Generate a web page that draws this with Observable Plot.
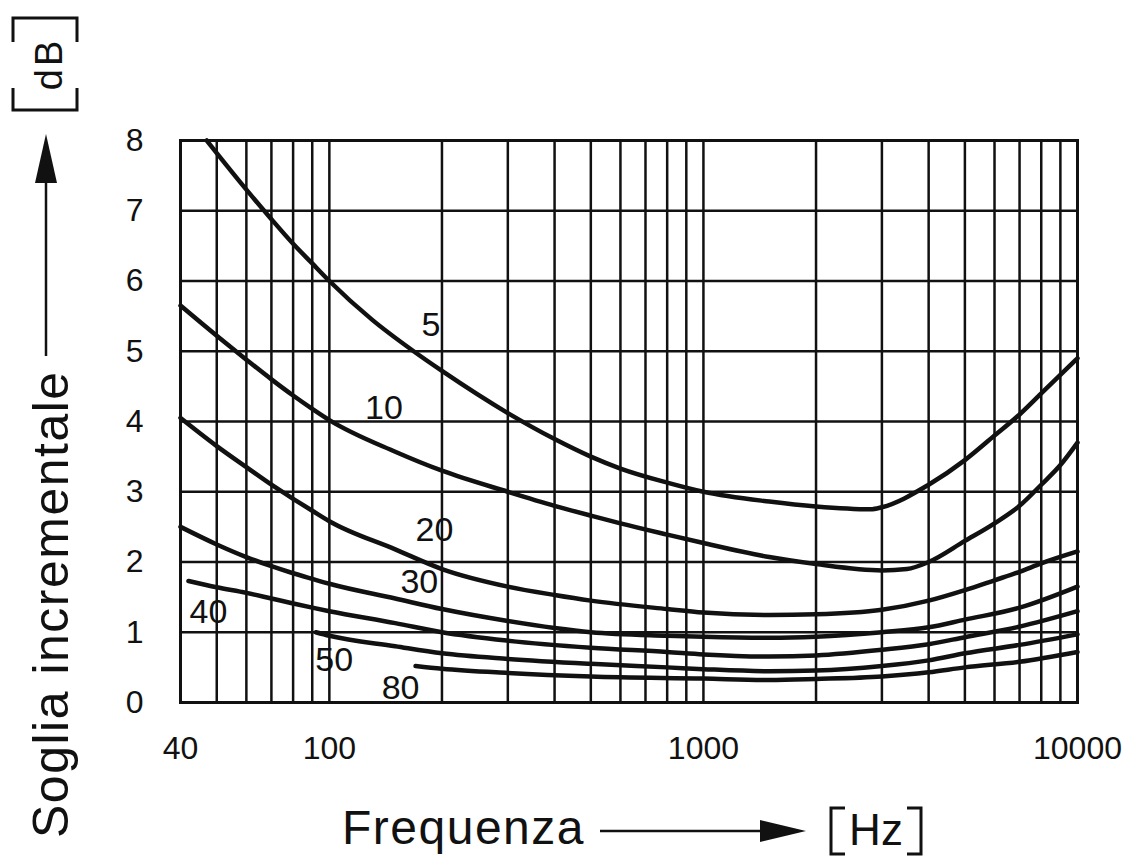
<!DOCTYPE html>
<html><head><meta charset="utf-8">
<script src="https://cdn.jsdelivr.net/npm/d3@7"></script>
<script src="https://cdn.jsdelivr.net/npm/@observablehq/plot@0.6"></script>
<style>
body{margin:0;background:#fff;}
#chart svg{display:block;}
</style>
</head><body><div id="chart"></div>
<script>
// Grid & ticks
const gridFreqs = [50,60,70,80,90,100,200,300,400,500,600,700,800,900,1000,2000,3000,4000,5000,6000,7000,8000,9000];
const gridDb = [1,2,3,4,5,6,7];
const xTicks = [40,100,1000,10000];
const yTicks = [0,1,2,3,4,5,6,7,8];

// Curves (frequency in Hz, incremental threshold in dB), one per sensation level
const freq5  = [47,50,60,70,80,90,100,130,168,200,300,400,500,600,800,1000,1500,2000,2800,3000,4000,5000,6000,7000,8000,10000];
const db5    = [8.0,7.82,7.3,6.88,6.53,6.25,6.0,5.45,5.0,4.72,4.12,3.75,3.5,3.33,3.13,3.0,2.86,2.79,2.75,2.78,3.1,3.45,3.8,4.1,4.4,4.9];
const freq10 = [40,50,60,70,80,90,100,150,200,300,400,500,600,800,1000,1500,2000,3000,3500,4000,5000,6000,7000,8000,9000,10000];
const db10   = [5.65,5.22,4.88,4.6,4.37,4.18,4.02,3.57,3.3,3.0,2.8,2.66,2.55,2.39,2.27,2.07,1.97,1.88,1.9,2.0,2.3,2.55,2.8,3.1,3.38,3.7];
const freq20 = [40,50,60,70,80,90,100,150,200,300,400,500,800,1000,1500,2000,3000,4000,5000,6000,7000,8000,10000];
const db20   = [4.05,3.65,3.35,3.1,2.9,2.73,2.58,2.18,1.9,1.65,1.53,1.45,1.33,1.28,1.245,1.255,1.32,1.45,1.6,1.74,1.86,1.98,2.15];
const freq30 = [40,50,60,70,80,90,100,150,200,300,400,500,800,1000,1500,2000,3000,4000,5000,7000,10000];
const db30   = [2.5,2.25,2.07,1.94,1.84,1.76,1.69,1.48,1.33,1.16,1.06,1.0,0.95,0.935,0.92,0.935,1.0,1.07,1.18,1.35,1.65];
const freq40 = [42,50,60,70,80,90,100,150,200,300,500,800,1000,1500,2000,3000,4000,5000,7000,10000];
const db40   = [1.73,1.64,1.56,1.48,1.41,1.35,1.3,1.13,1.0,0.88,0.78,0.72,0.685,0.655,0.67,0.75,0.83,0.93,1.08,1.3];
const freq50 = [92,100,150,200,300,500,800,1000,1500,2000,3000,4000,5000,7000,10000];
const db50   = [1.0,0.95,0.8,0.7,0.62,0.55,0.5,0.475,0.445,0.455,0.52,0.6,0.7,0.82,0.97];
const freq80 = [170,200,300,500,1000,1500,2000,3000,4000,5000,7000,10000];
const db80   = [0.52,0.48,0.42,0.37,0.34,0.32,0.335,0.37,0.43,0.5,0.58,0.72];

// Curve labels
const labelText = ["5","10","20","30","40","50","80"];
const labelFreq = [187,140,191,174,47.5,103,155];
const labelDb   = [5.37,4.19,2.45,1.71,1.28,0.6,0.2];

const series = [
  ["5", freq5, db5], ["10", freq10, db10], ["20", freq20, db20], ["30", freq30, db30],
  ["40", freq40, db40], ["50", freq50, db50], ["80", freq80, db80]
];
const rows = series.flatMap(([k, fs, ds]) => fs.map((f, i) => ({level: k, f, db: ds[i]})));
const labels = labelText.map((t, i) => ({t, f: labelFreq[i], db: labelDb[i]}));

const ink = "#111";
const chart = Plot.plot({
  width: 1133,
  height: 857,
  marginLeft: 180,
  marginRight: 56,
  marginTop: 140,
  marginBottom: 155,
  style: {fontFamily: "Liberation Sans, Arial, sans-serif", fontSize: "32px", color: ink, background: "#fff"},
  x: {type: "log", domain: [40, 10000], ticks: xTicks, tickFormat: d => String(d), tickSize: 0, tickPadding: 34, label: null},
  y: {domain: [0, 8], ticks: yTicks, tickFormat: d => String(d), tickSize: 0, tickPadding: 37, label: null},
  marks: [
    Plot.ruleX(gridFreqs, {stroke: ink, strokeWidth: 2.5}),
    Plot.ruleY(gridDb, {stroke: ink, strokeWidth: 2.5}),
    Plot.frame({stroke: ink, strokeWidth: 3}),
    Plot.line(rows, {x: "f", y: "db", z: "level", stroke: ink, strokeWidth: 4.5, curve: "monotone-x"}),
    Plot.text(labels, {x: "f", y: "db", text: "t", fontSize: 34, fill: ink, textAnchor: "middle", lineAnchor: "middle"})
  ]
});
document.getElementById("chart").appendChild(chart);

// Axis titles, arrows and unit brackets
const svg = d3.select(chart);
const deco = svg.append("g").attr("fill", ink).attr("stroke", "none");
// y title
deco.append("text")
  .attr("transform", "translate(68,838) rotate(-90)")
  .attr("font-size", 50).attr("letter-spacing", 1.5).attr("text-anchor", "start")
  .text("Soglia incrementale");
deco.append("line").attr("x1", 46).attr("y1", 356).attr("x2", 46).attr("y2", 180)
  .attr("stroke", ink).attr("stroke-width", 2.5);
deco.append("path").attr("d", "M46,134 L35,183 L57,183 Z");
deco.append("text")
  .attr("transform", "translate(62,64) rotate(-90)")
  .attr("font-size", 38).attr("letter-spacing", 3).attr("text-anchor", "middle")
  .text("dB");
deco.append("path").attr("d", "M13,42 V18 H77 V42 M13,88 V110 H77 V88")
  .attr("fill", "none").attr("stroke", ink).attr("stroke-width", 3);
// x title
deco.append("text").attr("x", 342).attr("y", 844).attr("font-size", 48).attr("letter-spacing", 1.5)
  .attr("text-anchor", "start")
  .text("Frequenza");
deco.append("line").attr("x1", 600).attr("y1", 831).attr("x2", 765).attr("y2", 831)
  .attr("stroke", ink).attr("stroke-width", 2.5);
deco.append("path").attr("d", "M806,831 L760,820 L760,842 Z");
deco.append("text").attr("x", 876).attr("y", 845).attr("font-size", 44).attr("text-anchor", "middle")
  .text("Hz");
deco.append("path").attr("d", "M845,808 H831 V854 H845 M907,808 H921 V854 H907")
  .attr("fill", "none").attr("stroke", ink).attr("stroke-width", 3);
</script>
</body></html>
